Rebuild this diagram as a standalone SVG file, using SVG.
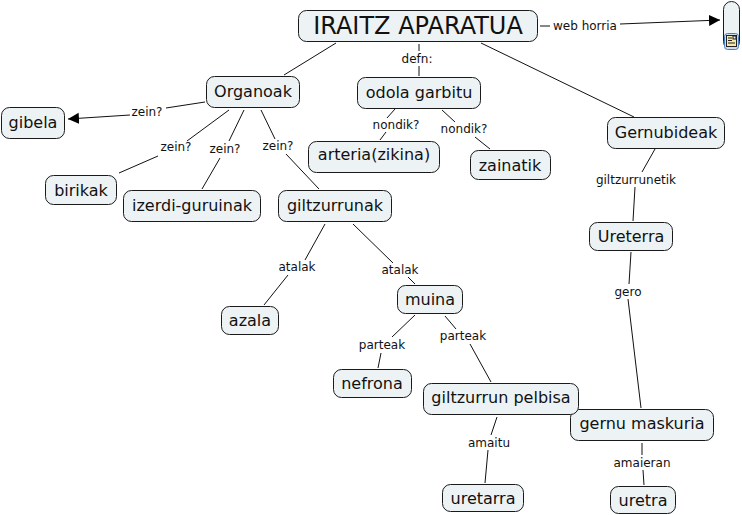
<svg xmlns="http://www.w3.org/2000/svg" width="742" height="515" viewBox="0 0 742 515">
<style>
text{font-family:"DejaVu Sans",Verdana,sans-serif;fill:#111;text-anchor:middle}
.n rect{fill:#edf3f5;stroke:#1a1a1a;stroke-width:1}
.n text{font-size:16px}
.l{font-size:12px}
#c line{stroke:#111;stroke-width:1;fill:none}
</style>
<defs><marker id="a" markerUnits="userSpaceOnUse" markerWidth="12" markerHeight="12" refX="11" refY="6" orient="auto"><path d="M0 0.5L11 6L0 11.500Z" fill="#000"/></marker></defs>
<g id="c">
<line x1="540" y1="26" x2="550" y2="26"/><line x1="620" y1="24" x2="720" y2="20" marker-end="url(#a)"/>
<line x1="336" y1="43" x2="284" y2="75"/>
<line x1="419" y1="44" x2="419" y2="51"/><line x1="419" y1="66" x2="419" y2="76"/>
<line x1="481" y1="43" x2="634" y2="117"/>
<line x1="205" y1="102" x2="166" y2="108"/><line x1="130" y1="115" x2="68" y2="119" marker-end="url(#a)"/>
<line x1="229" y1="110" x2="187" y2="141"/><line x1="158" y1="156" x2="119" y2="173"/>
<line x1="244" y1="110" x2="229" y2="141"/><line x1="220" y1="158" x2="202" y2="189"/>
<line x1="261" y1="110" x2="275" y2="139"/><line x1="286" y1="154" x2="319" y2="189"/>
<line x1="395" y1="109" x2="387" y2="118"/><line x1="386" y1="132" x2="380" y2="140"/>
<line x1="442" y1="110" x2="455" y2="122"/><line x1="475" y1="137" x2="490" y2="149"/>
<line x1="655" y1="149" x2="642" y2="172"/><line x1="635" y1="187" x2="633" y2="221"/>
<line x1="631" y1="252" x2="629" y2="284"/><line x1="628" y1="299" x2="641" y2="408"/>
<line x1="325" y1="224" x2="305" y2="260"/><line x1="288" y1="275" x2="264" y2="305"/>
<line x1="353" y1="224" x2="393" y2="263"/><line x1="408" y1="277" x2="415" y2="284"/>
<line x1="415" y1="315" x2="392" y2="337"/><line x1="381" y1="353" x2="378" y2="368"/>
<line x1="445" y1="316" x2="456" y2="329"/><line x1="470" y1="344" x2="491" y2="382"/>
<line x1="497" y1="417" x2="491" y2="435"/><line x1="488" y1="450" x2="485" y2="483"/>
<line x1="642" y1="443" x2="642" y2="455"/><line x1="643" y1="470" x2="644" y2="485"/>
</g>
<g class="l">
<text class="l" x="585" y="30">web horria</text>
<text class="l" x="417" y="63">defn:</text>
<text class="l" x="147" y="116">zein?</text>
<text class="l" x="176" y="151">zein?</text>
<text class="l" x="225" y="153">zein?</text>
<text class="l" x="278" y="150">zein?</text>
<text class="l" x="396" y="129">nondik?</text>
<text class="l" x="464" y="133">nondik?</text>
<text class="l" x="636" y="184">giltzurrunetik</text>
<text class="l" x="628" y="296">gero</text>
<text class="l" x="297" y="271">atalak</text>
<text class="l" x="400" y="274">atalak</text>
<text class="l" x="382" y="349">parteak</text>
<text class="l" x="463" y="340">parteak</text>
<text class="l" x="489" y="447">amaitu</text>
<text class="l" x="642" y="467">amaieran</text>
</g>
<g id="n0" class="n"><rect x="298.500" y="10.500" width="239" height="31" rx="8"/><text x="418" y="34" style="font-size:24px">IRAITZ APARATUA</text></g>
<g id="n1" class="n"><rect x="723.500" y="1.500" width="16" height="48" rx="8"/><rect x="724.500" y="33.500" width="14" height="16" rx="3" style="fill:#c9dcf2;stroke:#4a7fc1"/><rect x="726.500" y="35.500" width="10" height="11" style="fill:#f4e9a8;stroke:#222"/><path d="M728 38h4M728 40.500h4M728 43h7" stroke="#222" fill="none"/><rect x="733" y="36" width="3" height="3" fill="#4a7fc1"/></g>
<g id="n2" class="n"><rect x="1.500" y="107.500" width="63" height="31" rx="8"/><text x="33" y="128">gibela</text></g>
<g id="n3" class="n"><rect x="206.500" y="76.500" width="93" height="31" rx="8"/><text x="253" y="97">Organoak</text></g>
<g id="n4" class="n"><rect x="45.500" y="175.500" width="71" height="29" rx="8"/><text x="81" y="196">birikak</text></g>
<g id="n5" class="n"><rect x="123.500" y="190.500" width="137" height="31" rx="8"/><text x="192" y="211">izerdi-guruinak</text></g>
<g id="n6" class="n"><rect x="278.500" y="190.500" width="113" height="31" rx="8"/><text x="335" y="211">giltzurrunak</text></g>
<g id="n7" class="n"><rect x="357.500" y="77.500" width="123" height="31" rx="8"/><text x="419" y="98">odola garbitu</text></g>
<g id="n8" class="n"><rect x="308.500" y="141.500" width="131" height="31" rx="8"/><text x="374" y="160">arteria(zikina)</text></g>
<g id="n9" class="n"><rect x="470.500" y="150.500" width="80" height="29" rx="8"/><text x="510" y="171">zainatik</text></g>
<g id="n10" class="n"><rect x="607.500" y="117.500" width="117" height="31" rx="8"/><text x="666" y="138">Gernubideak</text></g>
<g id="n11" class="n"><rect x="589.500" y="222.500" width="83" height="28" rx="8"/><text x="631" y="242">Ureterra</text></g>
<g id="n12" class="n"><rect x="221.500" y="306.500" width="57" height="28" rx="8"/><text x="250" y="326">azala</text></g>
<g id="n13" class="n"><rect x="397.500" y="285.500" width="65" height="28" rx="8"/><text x="430" y="305">muina</text></g>
<g id="n14" class="n"><rect x="333.500" y="369.500" width="78" height="28" rx="8"/><text x="372" y="389">nefrona</text></g>
<g id="n15" class="n"><rect x="570.500" y="409.500" width="143" height="31" rx="8"/><text x="642" y="429">gernu maskuria</text></g>
<g id="n16" class="n"><rect x="423.500" y="383.500" width="155" height="31" rx="8"/><text x="501" y="403">giltzurrun pelbisa</text></g>
<g id="n17" class="n"><rect x="442.500" y="484.500" width="81" height="27" rx="8"/><text x="483" y="504">uretarra</text></g>
<g id="n18" class="n"><rect x="610.500" y="486.500" width="65" height="27" rx="8"/><text x="643" y="506">uretra</text></g>
</svg>
